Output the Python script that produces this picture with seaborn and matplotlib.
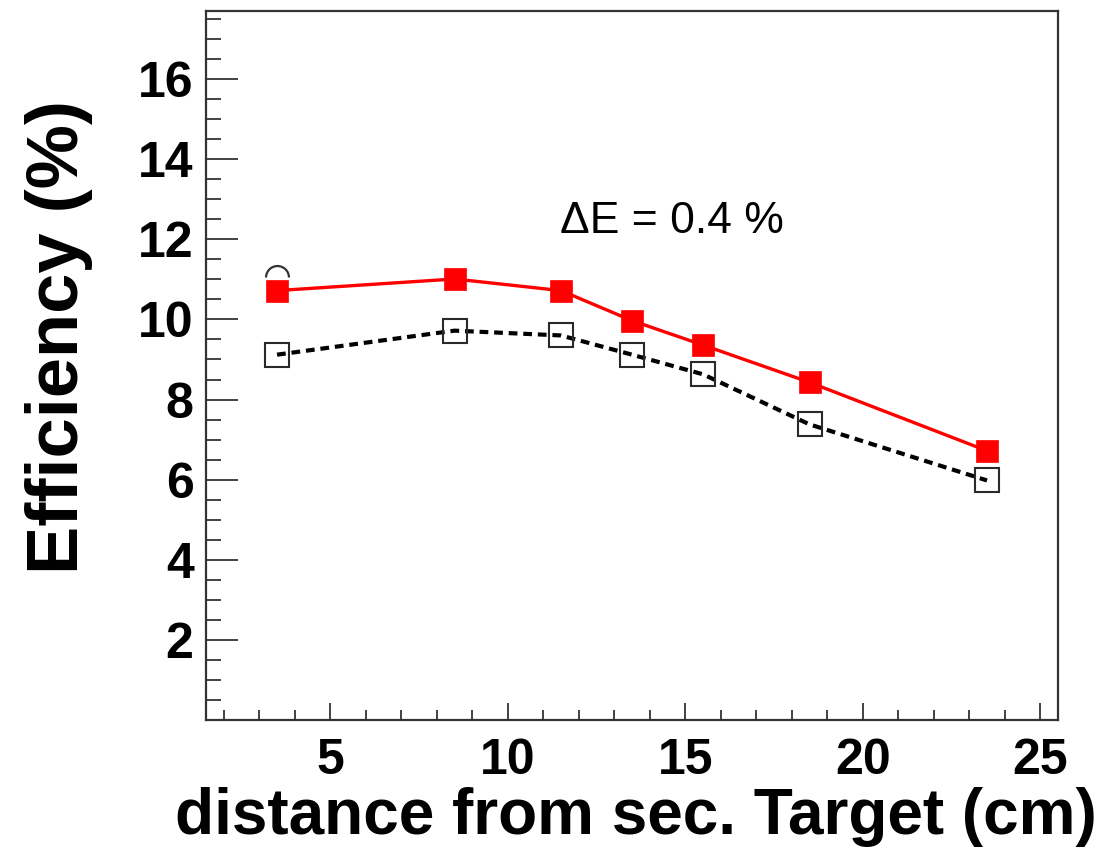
import matplotlib
matplotlib.use("Agg")
import matplotlib.pyplot as plt
from matplotlib.ticker import FixedLocator, MultipleLocator
from matplotlib.path import Path
import numpy as np
import pandas as pd
import seaborn as sns

# Measured efficiency vs. distance from the secondary target
distance_cm = [3.5, 8.5, 11.5, 13.5, 15.5, 18.5, 23.5]
eff_filled = [10.72, 11.01, 10.72, 9.97, 9.36, 8.43, 6.72]
eff_open = [9.12, 9.72, 9.60, 9.12, 8.63, 7.38, 5.98]
extra_point_x = [3.5]
extra_point_y = [11.05]

x_ticks = [5, 10, 15, 20, 25]
y_ticks = [2, 4, 6, 8, 10, 12, 14, 16]
annotation = "\u0394E = 0.4 %"

df_filled = pd.DataFrame({"distance": distance_cm, "efficiency": eff_filled})
df_open = pd.DataFrame({"distance": distance_cm, "efficiency": eff_open})
df_extra = pd.DataFrame({"distance": extra_point_x, "efficiency": extra_point_y})

sns.set_style("ticks")
plt.rcParams["font.family"] = ["Liberation Sans", "DejaVu Sans"]
plt.rcParams["text.color"] = "black"
plt.rcParams["axes.labelcolor"] = "black"
plt.rcParams["xtick.color"] = "black"
plt.rcParams["ytick.color"] = "black"

fig = plt.figure(figsize=(11.03, 8.61), dpi=100)
ax = fig.add_axes([0.1868, 0.1638, 0.7724, 0.8234])

# Upper half of an open circle at the first distance
half_circle = Path.arc(0, 180)
sns.lineplot(data=df_extra, x="distance", y="efficiency", ax=ax,
             marker=half_circle, markersize=16.5, markerfacecolor="none",
             markeredgecolor="#333333", markeredgewidth=1.6, linestyle="none",
             zorder=2)

sns.lineplot(data=df_open, x="distance", y="efficiency", ax=ax,
             color="black", linewidth=3.0, linestyle=(0, (2.1, 1.4)),
             marker="s", markersize=17, markerfacecolor="none",
             markeredgecolor="#2a2a2a", markeredgewidth=1.5, zorder=3)

sns.lineplot(data=df_filled, x="distance", y="efficiency", ax=ax,
             color="#ff0000", linewidth=2.4, linestyle="-",
             marker="s", markersize=16.5, markerfacecolor="#ff0000",
             markeredgecolor="#ff0000", markeredgewidth=0.5, zorder=4)

ax.set_xlim(1.5, 25.5)
ax.set_ylim(0, 17.7)

ax.xaxis.set_major_locator(FixedLocator(x_ticks))
ax.xaxis.set_minor_locator(MultipleLocator(1))
ax.yaxis.set_major_locator(FixedLocator(y_ticks))
ax.yaxis.set_minor_locator(MultipleLocator(0.5))
ax.set_xticklabels([str(v) for v in x_ticks])
ax.set_yticklabels([str(v) for v in y_ticks])

for lbl in ax.get_xticklabels() + ax.get_yticklabels():
    lbl.set_fontsize(36)
    lbl.set_fontweight("bold")
    lbl.set_color("black")

ax.tick_params(axis="both", which="both", direction="in", color="#222222",
               width=1.2, top=False, right=False)
ax.tick_params(axis="y", which="major", length=23, pad=9)
ax.tick_params(axis="y", which="minor", length=11)
ax.tick_params(axis="x", which="major", length=12, pad=13)
ax.tick_params(axis="x", which="minor", length=7)

for side in ["left", "right", "top", "bottom"]:
    ax.spines[side].set_visible(True)
    ax.spines[side].set_linewidth(1.6)
    ax.spines[side].set_color("#333333")

ax.set_xlabel("distance from sec. Target (cm)", fontsize=46, fontweight="bold",
              color="black")
ax.set_ylabel("Efficiency (%)", fontsize=52, fontweight="bold", color="black")
ax.xaxis.set_label_coords(0.505, -0.094)
ax.yaxis.set_label_coords(-0.133, 0.54)

ax.text(11.47, 12.17, annotation, fontsize=32, ha="left", va="baseline",
        color="black")

fig.savefig("out.png", dpi=100, facecolor="white")
